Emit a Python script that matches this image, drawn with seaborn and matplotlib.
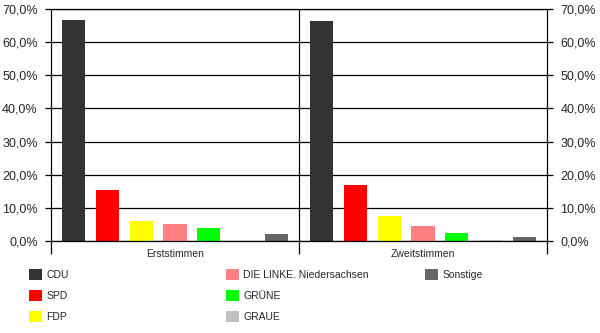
import matplotlib
matplotlib.use("Agg")
import matplotlib.pyplot as plt
from matplotlib.patches import Patch
from matplotlib.ticker import FuncFormatter, FixedLocator
import seaborn as sns
import pandas as pd

# Stimmenanteile in Prozent
wahl = ["Erststimmen", "Zweitstimmen"]
parteien = ["CDU", "SPD", "FDP", "DIE LINKE. Niedersachsen", "GRÜNE", "GRAUE", "Sonstige"]
erststimmen = [66.7, 15.4, 6.1, 5.1, 3.9, 0.0, 2.1]
zweitstimmen = [66.4, 17.0, 7.5, 4.5, 2.5, 0.4, 1.2]
farben = ["#333333", "#FF0000", "#FFFF00", "#FF8080", "#00FF00", "#C0C0C0", "#666666"]
y_ticks = [0, 10, 20, 30, 40, 50, 60, 70]

rows = []
for w, werte in zip(wahl, [erststimmen, zweitstimmen]):
    for p, v in zip(parteien, werte):
        rows.append({"Wahl": w, "Partei": p, "Anteil": v})
df = pd.DataFrame(rows)

sns.set_style("white")
plt.rcParams["font.family"] = ["Liberation Sans", "DejaVu Sans"]
plt.rcParams["font.size"] = 8

fig = plt.figure(figsize=(6.0, 3.33), dpi=100)
ax = fig.add_axes([51 / 600, 1 - 241 / 333, (547 - 51) / 600, (241 - 9) / 333])

sns.barplot(data=df, x="Wahl", y="Anteil", hue="Partei", order=wahl,
            hue_order=parteien, palette=dict(zip(parteien, farben)),
            width=0.955, gap=0.32, linewidth=0, saturation=1,
            legend=False, ax=ax)

ax.set_xlim(-0.5, 1.5)
ax.set_ylim(0, 70)
ax.set_yticks(y_ticks)
ax.yaxis.set_major_formatter(FuncFormatter(lambda v, _: f"{v:.1f}".replace(".", ",") + "%"))
ax.yaxis.grid(True, color="black", linewidth=0.9)
ax.set_axisbelow(True)
ax.tick_params(axis="y", which="major", left=True, right=True, labelleft=True,
               labelright=True, length=4.5, width=0.9, color="black",
               direction="out", labelsize=9, pad=5)
ax.tick_params(axis="x", which="major", length=0, labelsize=7.5, pad=6)
ax.xaxis.set_minor_locator(FixedLocator([-0.5, 0.5, 1.5]))
ax.tick_params(axis="x", which="minor", bottom=True, length=9, width=0.9,
               color="black", direction="out")
ax.axvline(0.5, color="black", linewidth=0.9)
ax.set_xlabel("")
ax.set_ylabel("")
for s in ax.spines.values():
    s.set_color("black")
    s.set_linewidth(0.9)

# Legende in drei Spalten
handles = [Patch(facecolor=c, edgecolor="none") for c in farben]
spalten = [(0, 3, 29), (3, 6, 226), (6, 7, 425)]
for a, b, x in spalten:
    fig.legend(handles[a:b], parteien[a:b], loc="upper left",
               bbox_to_anchor=(x / 600, 1 - 269 / 333), frameon=False,
               fontsize=7.5, handlelength=1.25, handleheight=1.25,
               handletextpad=0.4, labelspacing=0.95, borderpad=0,
               borderaxespad=0)

fig.savefig("out.png", dpi=100)
